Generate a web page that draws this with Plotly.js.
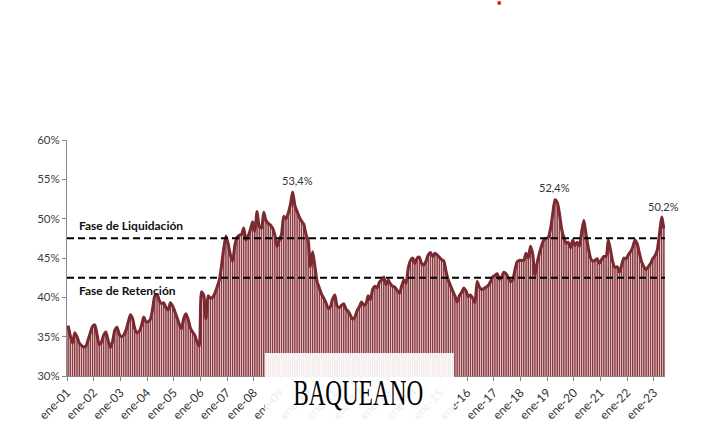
<!DOCTYPE html>
<html><head><meta charset="utf-8">
<script src="https://cdn.plot.ly/plotly-3.0.1.min.js"></script>
<style>html,body{margin:0;padding:0;background:#fff}#chart{width:719px;height:446px}</style>
</head><body><div id="chart"></div>
<script>
// Monthly share (%) — one array per year, ene..dic
const y2001 = [36.4, 35.1, 34.2, 35.5, 35.0, 34.2, 33.9, 33.7, 33.8, 34.6, 35.5, 36.3];
const y2002 = [36.5, 35.3, 34.0, 34.3, 35.2, 35.6, 34.5, 33.6, 34.4, 35.8, 36.2, 35.3];
const y2003 = [35.0, 35.2, 35.8, 36.8, 37.8, 37.3, 36.0, 35.5, 35.7, 36.4, 37.5, 36.9];
const y2004 = [36.9, 37.2, 38.5, 40.2, 40.4, 39.6, 39.2, 39.3, 38.7, 38.4, 39.3, 38.9];
const y2005 = [38.2, 37.4, 36.6, 36.0, 37.3, 37.9, 37.2, 36.1, 35.6, 35.2, 34.3, 33.8];
const y2006 = [40.7, 40.3, 37.3, 40.2, 39.9, 40.0, 40.5, 41.3, 42.2, 44.0, 46.2, 47.8];
const y2007 = [46.8, 45.4, 44.6, 46.6, 47.6, 47.9, 48.0, 48.8, 47.3, 47.8, 48.6, 49.6];
const y2008 = [48.4, 50.9, 49.0, 48.8, 50.8, 49.8, 49.4, 49.2, 48.8, 47.9, 46.5, 47.3];
const y2009 = [48.0, 50.3, 50.0, 50.7, 51.8, 53.4, 51.7, 50.9, 50.2, 49.7, 49.3, 48.0];
const y2010 = [47.2, 43.9, 45.8, 44.0, 42.0, 41.2, 40.4, 39.9, 39.3, 38.6, 38.8, 39.8];
const y2011 = [40.3, 38.9, 38.7, 39.0, 39.2, 38.5, 38.2, 37.7, 37.2, 37.5, 38.3, 38.8];
const y2012 = [39.4, 39.0, 39.2, 40.2, 39.7, 41.0, 41.4, 41.2, 41.9, 42.2, 42.6, 41.6];
const y2013 = [42.2, 41.7, 41.4, 41.3, 40.9, 40.5, 41.4, 42.2, 41.8, 43.7, 44.7, 45.0];
const y2014 = [44.3, 45.0, 45.1, 44.3, 44.1, 44.6, 45.4, 45.7, 45.2, 45.6, 45.4, 45.1];
const y2015 = [44.8, 44.6, 43.3, 42.2, 41.5, 40.8, 40.2, 39.4, 40.2, 40.6, 41.2, 40.8];
const y2016 = [40.1, 40.3, 39.9, 39.3, 42.0, 41.3, 41.0, 41.1, 41.3, 41.5, 42.0, 42.6];
const y2017 = [42.8, 43.0, 42.3, 42.6, 43.2, 43.0, 42.5, 42.0, 42.2, 43.5, 44.5, 44.7];
const y2018 = [44.7, 44.7, 45.6, 45.0, 46.5, 45.5, 42.8, 44.4, 45.6, 46.6, 47.3, 47.5];
const y2019 = [47.6, 48.7, 50.6, 52.4, 52.1, 50.7, 48.7, 47.6, 46.9, 47.0, 46.3, 47.3];
const y2020 = [46.6, 47.0, 46.5, 48.3, 49.8, 48.0, 46.3, 45.0, 44.6, 44.7, 44.9, 44.3];
const y2021 = [44.8, 45.2, 45.2, 47.3, 46.0, 44.5, 43.8, 43.9, 43.2, 44.1, 45.0, 44.9];
const y2022 = [45.4, 45.8, 46.4, 47.3, 46.8, 45.6, 44.5, 43.9, 43.5, 43.9, 44.3, 44.9];
const y2023 = [45.3, 46.0, 48.0, 50.2, 48.7];

const tickLabels = ['ene-01','ene-02','ene-03','ene-04','ene-05','ene-06','ene-07','ene-08',
  'ene-09','ene-10','ene-11','ene-12','ene-13','ene-14','ene-15','ene-16','ene-17','ene-18',
  'ene-19','ene-20','ene-21','ene-22','ene-23'];
const phaseLevels = [47.5, 42.5];
const phaseNames = ['Fase de Liquidación', 'Fase de Retención'];
const peakMonths = [101, 219, 267];           // jun-09, abr-19, abr-23
const peakTexts = ['53,4%', '52,4%', '50,2%'];
const watermark = 'BAQUEANO';

const values = [].concat(y2001,y2002,y2003,y2004,y2005,y2006,y2007,y2008,y2009,y2010,y2011,
  y2012,y2013,y2014,y2015,y2016,y2017,y2018,y2019,y2020,y2021,y2022,y2023);
const idx = values.map((_, i) => i);
const tickVals = tickLabels.map((_, k) => 12 * k - 0.5);

const FONT = 'Lato, "Open Sans", sans-serif';

const traces = [
  {type: 'bar', x: idx, y: values, marker: {color: '#8c3a41', line: {width: 0}},
   hoverinfo: 'skip'},
  {type: 'scatter', mode: 'lines', x: idx, y: values,
   line: {color: '#7a2a31', width: 3, shape: 'spline', smoothing: 0.6}, hoverinfo: 'skip'}
];

const shapes = phaseLevels.map(v => ({
  type: 'line', xref: 'paper', yref: 'y', x0: 0, x1: 1, y0: v, y1: v,
  line: {color: '#000', width: 2, dash: '7px,4px'}, layer: 'above'
}));
shapes.push({type: 'rect', xref: 'paper', yref: 'paper', x0: 0.331, x1: 0.647, y0: -0.21, y1: 0.0975,
  fillcolor: 'rgba(255,255,255,0.9)', line: {width: 0}, layer: 'above'});
shapes.push({type: 'circle', xref: 'paper', yref: 'paper', x0: 0.7195, x1: 0.7262, y0: 1.572, y1: 1.589,
  fillcolor: '#e02020', line: {width: 0}});

const annotations = [];
phaseNames.forEach((t, i) => annotations.push({
  text: '<b>' + t + '</b>', xref: 'paper', yref: 'y', x: 0.017, xanchor: 'left',
  y: phaseLevels[i], yanchor: 'middle', yshift: i === 0 ? 13 : -13, showarrow: false,
  font: {family: FONT, size: 12, color: '#111'}
}));
const peakShift = [[5, 11], [0, 12], [2, 11]];
peakMonths.forEach((m, i) => annotations.push({
  text: peakTexts[i], x: m, y: values[m], xref: 'x', yref: 'y', showarrow: false,
  xshift: peakShift[i][0], yshift: peakShift[i][1], yanchor: 'middle',
  font: {family: FONT, size: 11, color: '#333'}
}));
annotations.push({text: watermark, xref: 'paper', yref: 'paper', x: 0.4864, y: -0.075,
  xanchor: 'center', yanchor: 'middle', showarrow: false,
  font: {family: '"Liberation Serif", "DejaVu Serif", serif', size: 35, color: '#000'}});

const layout = {
  width: 719, height: 446,
  margin: {l: 67, r: 54, t: 140, b: 70},
  paper_bgcolor: '#fff', plot_bgcolor: '#fff',
  showlegend: false, hovermode: false, bargap: 0.3,
  font: {family: FONT, size: 11, color: '#404040'},
  xaxis: {range: [-0.5, values.length - 0.5], tickvals: tickVals, ticktext: tickLabels,
    tickangle: -45, ticks: 'outside', ticklen: 4, tickcolor: '#888', showline: true,
    linecolor: '#888', linewidth: 1, showgrid: false, zeroline: false,
    tickfont: {family: FONT, size: 12, color: '#333'}},
  yaxis: {range: [30, 60], dtick: 5, ticksuffix: '%', ticks: 'outside', ticklen: 4,
    tickcolor: '#888', showline: true, linecolor: '#888', linewidth: 1, showgrid: false,
    zeroline: false, tickfont: {family: FONT, size: 11.5, color: '#404040'}},
  shapes: shapes, annotations: annotations
};

Plotly.newPlot('chart', traces, layout, {staticPlot: true, displayModeBar: false}).then(gd => {
  gd.querySelectorAll('.annotation-text').forEach(t => {
    if (t.textContent === watermark) {
      t.setAttribute('textLength', '130');
      t.setAttribute('lengthAdjust', 'spacingAndGlyphs');
    }
  });
});
</script></body></html>
